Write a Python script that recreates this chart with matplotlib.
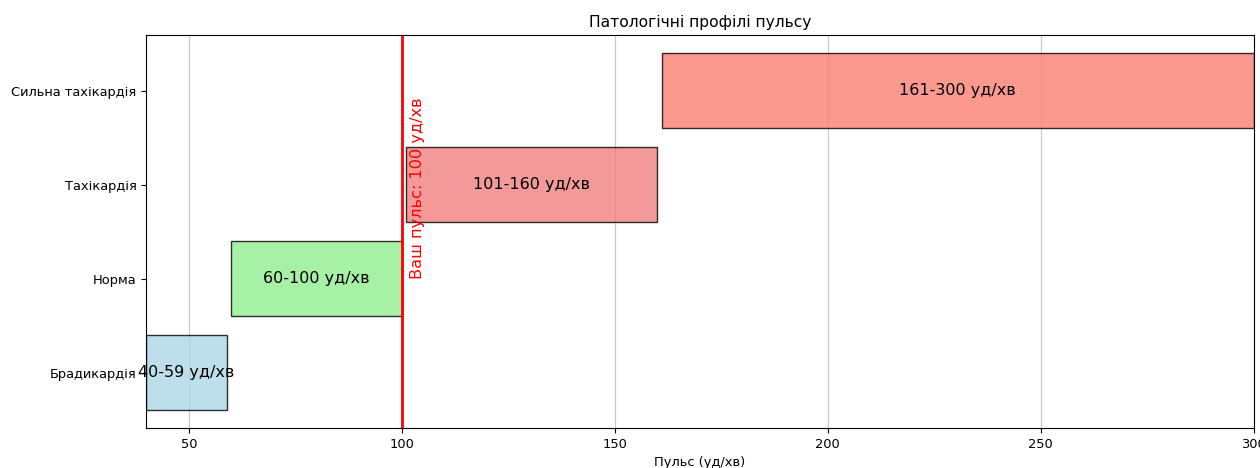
import matplotlib.pyplot as plt

categories = ['Брадикардія', 'Норма', 'Тахікардія', 'Сильна тахікардія']
starts = [40, 60, 101, 161]
ends = [59, 100, 160, 300]
labels = ['40-59 уд/хв', '60-100 уд/хв', '101-160 уд/хв', '161-300 уд/хв']
colors = ['lightblue', 'lightgreen', 'lightcoral', 'salmon']
user_pulse = 100

fig = plt.figure(figsize=(12.6, 4.68), dpi=100)
ax = fig.add_axes([0.116, 0.085, 0.879, 0.84])

widths = [e - s for s, e in zip(starts, ends)]
ax.barh(categories, widths, left=starts, color=colors, edgecolor='black', alpha=0.8, height=0.8)

for i, (s, w, lab) in enumerate(zip(starts, widths, labels)):
    ax.text(s + w / 2, i, lab, ha='center', va='center', fontsize=11.5)

ax.axvline(user_pulse, color='red', linewidth=2)
ax.text(user_pulse + 2, 1, f'Ваш пульс: {user_pulse} уд/хв', rotation=90, color='red',
        fontsize=11.6, va='bottom', ha='left')

ax.set_xlim(40, 300)
ax.set_title('Патологічні профілі пульсу', fontsize=11.2)
ax.set_xlabel('Пульс (уд/хв)', fontsize=9.4)
ax.tick_params(labelsize=9.4)
ax.grid(axis='x', alpha=0.7)
ax.set_axisbelow(True)

plt.savefig('out.png', dpi=100)
